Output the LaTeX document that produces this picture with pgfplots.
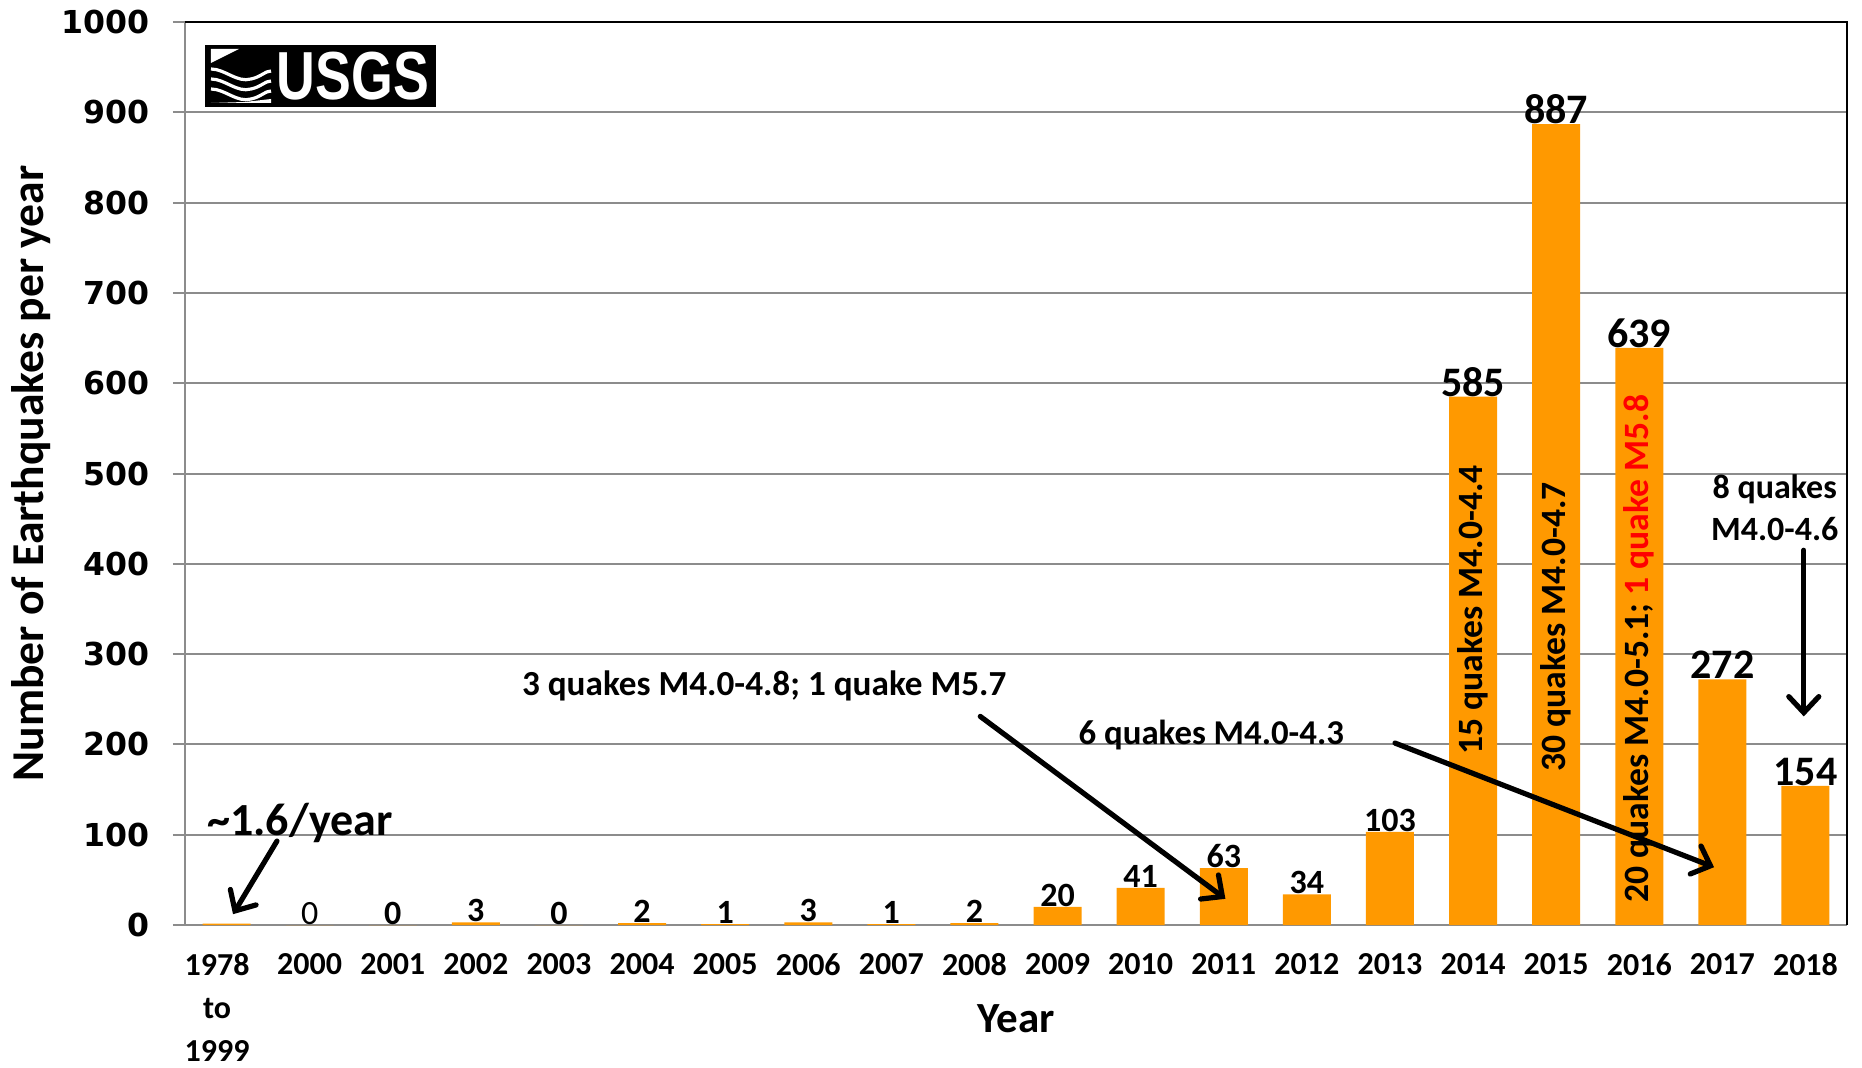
\documentclass[border=0pt]{standalone}
\usepackage{pgfplots}
\pgfplotsset{compat=1.18}
\usetikzlibrary{arrows.meta}
\usepackage{fontspec}
\setmainfont{Carlito}
\newfontfamily\dejavu{DejaVu Sans}
\newfontfamily\logofont{Liberation Sans}
\definecolor{barorange}{RGB}{255,153,0}
\definecolor{gridgray}{RGB}{140,140,140}
\newcommand{\Sm}[1]{\fontsize{17}{17}\selectfont\bfseries #1}
\newcommand{\Lg}[1]{\fontsize{21}{21}\selectfont\bfseries #1}
\newcommand{\Nn}[1]{\fontsize{17}{17}\selectfont\mdseries #1}
\begin{document}
\begin{tikzpicture}[arr/.style={line width=2.6pt, line cap=round, -{Straight Barb[length=8pt,width=15pt,line cap=round]}}]
\begin{axis}[
  scale only axis,
  width=831pt, height=451.5pt,
  xmin=-0.5, xmax=19.5,
  ymin=0, ymax=1000,
  axis x line*=bottom, axis y line*=left,
  axis line style={gridgray, line width=1.3pt},
  ytick={0,100,...,1000},
  ymajorgrids, major grid style={gridgray, line width=1pt},
  y tick style={gridgray, line width=1pt},
  tick align=outside,
  major tick length=6pt,
  xtick={0,1,...,19},
  x tick style={draw=none},
  minor xtick={-0.5,0.5,...,19.5},
  minor x tick style={gridgray, line width=1pt},
  minor tick length=5pt,
  xticklabels={{\hspace*{-9.5pt}1978\\\hspace*{-9.5pt}to\\\hspace*{-9.5pt}1999},2000,2001,2002,2003,2004,2005,2006,2007,2008,2009,2010,2011,2012,2013,2014,2015,2016,2017,2018},
  xticklabel style={font=\fontsize{16}{21.5}\selectfont\bfseries, align=center, yshift=-4.6pt},
  yticklabel style={font=\dejavu\bfseries\fontsize{15.8}{15.8}\selectfont, xshift=-8pt},
  /pgf/number format/assume math mode=true,
  /pgf/number format/1000 sep={},
  xlabel={Year},
  xlabel style={font=\fontsize{21.5}{21.5}\selectfont\bfseries, at={(axis description cs:0.5,-0.104)}, anchor=center},
  ylabel={Number of Earthquakes per year},
  ylabel style={font=\fontsize{22.8}{22.8}\selectfont\bfseries, at={(axis description cs:-0.0927,0.5)}, anchor=center},
  ybar, bar width=24pt,
  clip=false,
]
\addplot[fill=barorange, draw=none,
  point meta=explicit symbolic,
  nodes near coords,
  nodes near coords style={anchor=south, inner sep=0pt, text=black},
] coordinates {
(0,1.6) [{}]
(1,0) [\Nn{0}]
(2,0) [\Sm{0}]
(3,3) [\Sm{3}]
(4,0) [\Sm{0}]
(5,2) [\Sm{2}]
(6,1) [\Sm{1}]
(7,3) [\Sm{3}]
(8,1) [\Sm{1}]
(9,2) [\Sm{2}]
(10,20) [\Sm{20}]
(11,41) [\Sm{41}]
(12,63) [\Sm{63}]
(13,34) [\Sm{34}]
(14,103) [\Sm{103}]
(15,585) [\Lg{585}]
(16,887) [\Lg{887}]
(17,639) [\Lg{639}]
(18,272) [\Lg{272}]
(19,154) [\Lg{154}]
};
% plot area border (top and right)
\draw[black, line width=0.8pt] (rel axis cs:0,1) -- (rel axis cs:1,1) -- (rel axis cs:1,0);
% rotated texts in bars
\node[rotate=90, font=\fontsize{17.8}{17.8}\selectfont\bfseries] at (axis cs:15,349) {15 quakes M4.0-4.4};
\node[rotate=90, font=\fontsize{17.8}{17.8}\selectfont\bfseries] at (axis cs:16,330) {30 quakes M4.0-4.7};
\node[rotate=90, font=\fontsize{17.8}{17.8}\selectfont\bfseries] at (axis cs:17,306) {20 quakes M4.0-5.1; \textcolor{red}{1 quake M5.8}};
% annotations
\node[font=\fontsize{23}{23}\selectfont\bfseries] at (axis cs:0.884,113) {\textasciitilde1.6/year};
\draw[arr] (axis cs:0.607,93) -- (axis cs:0.078,12);
\node[font=\fontsize{17.6}{17.6}\selectfont\bfseries] at (axis cs:6.47,265) {3 quakes M4.0-4.8; 1 quake M5.7};
\draw[arr] (axis cs:9.07,231) -- (axis cs:12.02,29);
\node[font=\fontsize{17.4}{17.4}\selectfont\bfseries] at (axis cs:11.85,210) {6 quakes M4.0-4.3};
\draw[arr] (axis cs:14.06,201.5) -- (axis cs:17.9,64);
\node[font=\fontsize{17}{21}\selectfont\bfseries, align=center] at (axis cs:18.63,462) {8 quakes\\M4.0-4.6};
\draw[arr] (axis cs:18.98,415) -- (axis cs:18.98,231);
\end{axis}
% USGS logo (decoration)
\fill[black] (10pt,409pt) rectangle (125.5pt,440pt);
\node[text=white, inner sep=0pt, font=\logofont\bfseries\fontsize{34}{34}\selectfont] at (84pt,424.5pt) {\scalebox{0.79}[1]{USGS}};
\begin{scope}[white, line width=1.6pt]
\fill[white] (13pt,438pt) -- (27pt,438pt) -- (13pt,431pt) -- cycle;
\draw (13pt,428pt) .. controls (20pt,428pt) and (26pt,421pt) .. (33pt,423pt) .. controls (38pt,424pt) and (40pt,427pt) .. (43pt,427pt);
\draw (13pt,423pt) .. controls (20pt,423pt) and (26pt,416pt) .. (33pt,418pt) .. controls (38pt,419pt) and (40pt,422pt) .. (43pt,422pt);
\draw (13pt,418pt) .. controls (20pt,418pt) and (26pt,411pt) .. (33pt,413pt) .. controls (38pt,414pt) and (40pt,417pt) .. (43pt,417pt);
\fill[white] (13pt,411pt) -- (43pt,411pt) -- (43pt,413pt) -- (30pt,411.5pt) -- cycle;
\end{scope}
\pgfresetboundingbox
\path (-92.5pt,-71pt) rectangle (838.5pt,462.5pt);
\end{tikzpicture}
\end{document}
